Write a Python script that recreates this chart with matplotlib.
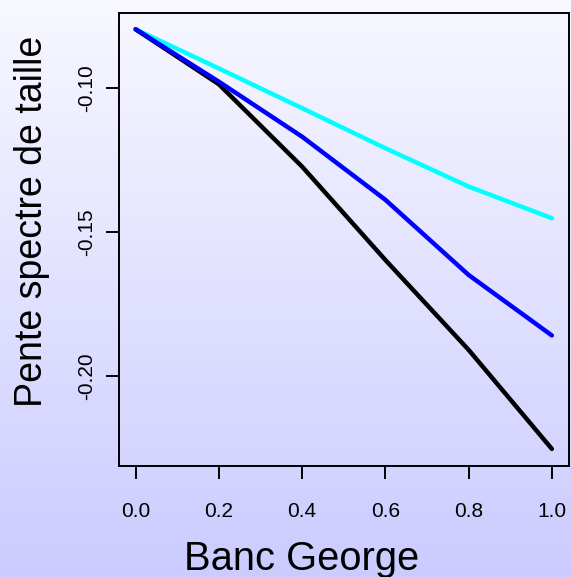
import matplotlib
matplotlib.use("Agg")
import matplotlib.pyplot as plt
import numpy as np

plt.rcParams['font.family'] = ['Liberation Sans', 'DejaVu Sans']

# proportion on Banc George vs. slope of size spectrum
x = [0.0, 0.2, 0.4, 0.6, 0.8, 1.0]
pente_noir = [-0.0797, -0.0988, -0.1274, -0.1598, -0.1910, -0.2254]
pente_bleu = [-0.0797, -0.0979, -0.1170, -0.1389, -0.1650, -0.1860]
pente_cyan = [-0.0797, -0.0933, -0.1071, -0.1210, -0.1343, -0.1453]

xticks = [0.0, 0.2, 0.4, 0.6, 0.8, 1.0]
yticks = [-0.20, -0.15, -0.10]

W, H = 571, 577
fig = plt.figure(figsize=(W / 100, H / 100), dpi=100)

# background gradient, white-ish at top to lavender at bottom
bg = fig.add_axes([0, 0, 1, 1], zorder=-10)
top = np.array([248, 248, 255]) / 255.0
bot = np.array([203, 203, 255]) / 255.0
t = np.linspace(0, 1, 256)[:, None]
grad = (top[None, :] * (1 - t) + bot[None, :] * t)[:, None, :]
bg.imshow(grad, aspect='auto', extent=[0, 1, 0, 1])
bg.axis('off')

ax = fig.add_axes([119 / W, 1 - 465.7 / H, (568.5 - 119) / W, (465.7 - 12.5) / H])
ax.patch.set_alpha(0)

ax.plot(x, pente_cyan, color='#00FFFF', lw=3.2, solid_capstyle='round', solid_joinstyle='round')
ax.plot(x, pente_noir, color='black', lw=3.2, solid_capstyle='round', solid_joinstyle='round')
ax.plot(x, pente_bleu, color='#0000FF', lw=3.2, solid_capstyle='round', solid_joinstyle='round')

# R style axes: 4% extension on both sides
ax.set_xlim(-0.04, 1.04)
allv = np.concatenate([pente_noir, pente_bleu, pente_cyan])
r = allv.max() - allv.min()
ax.set_ylim(allv.min() - 0.04 * r, allv.max() + 0.04 * r)

ax.set_xticks(xticks)
ax.set_xticklabels(['%.1f' % v for v in xticks])
ax.set_yticks(yticks)
ax.set_yticklabels(['%.2f' % v for v in yticks], rotation=90, va='center')

ax.tick_params(axis='both', direction='out', length=9.4, width=1.4, labelsize=15, color='black')
ax.tick_params(axis='x', pad=17)
ax.tick_params(axis='y', pad=7)
for s in ax.spines.values():
    s.set_linewidth(1.4)

fig.text(301.5 / W, 1 - 570 / H, 'Banc George', fontsize=28.7, ha='center', va='baseline')
fig.text(41.7 / W, 1 - 221 / H, 'Pente spectre de taille', fontsize=27, rotation=90,
         rotation_mode='anchor', ha='center', va='baseline')

fig.savefig('out.png', dpi=100)
